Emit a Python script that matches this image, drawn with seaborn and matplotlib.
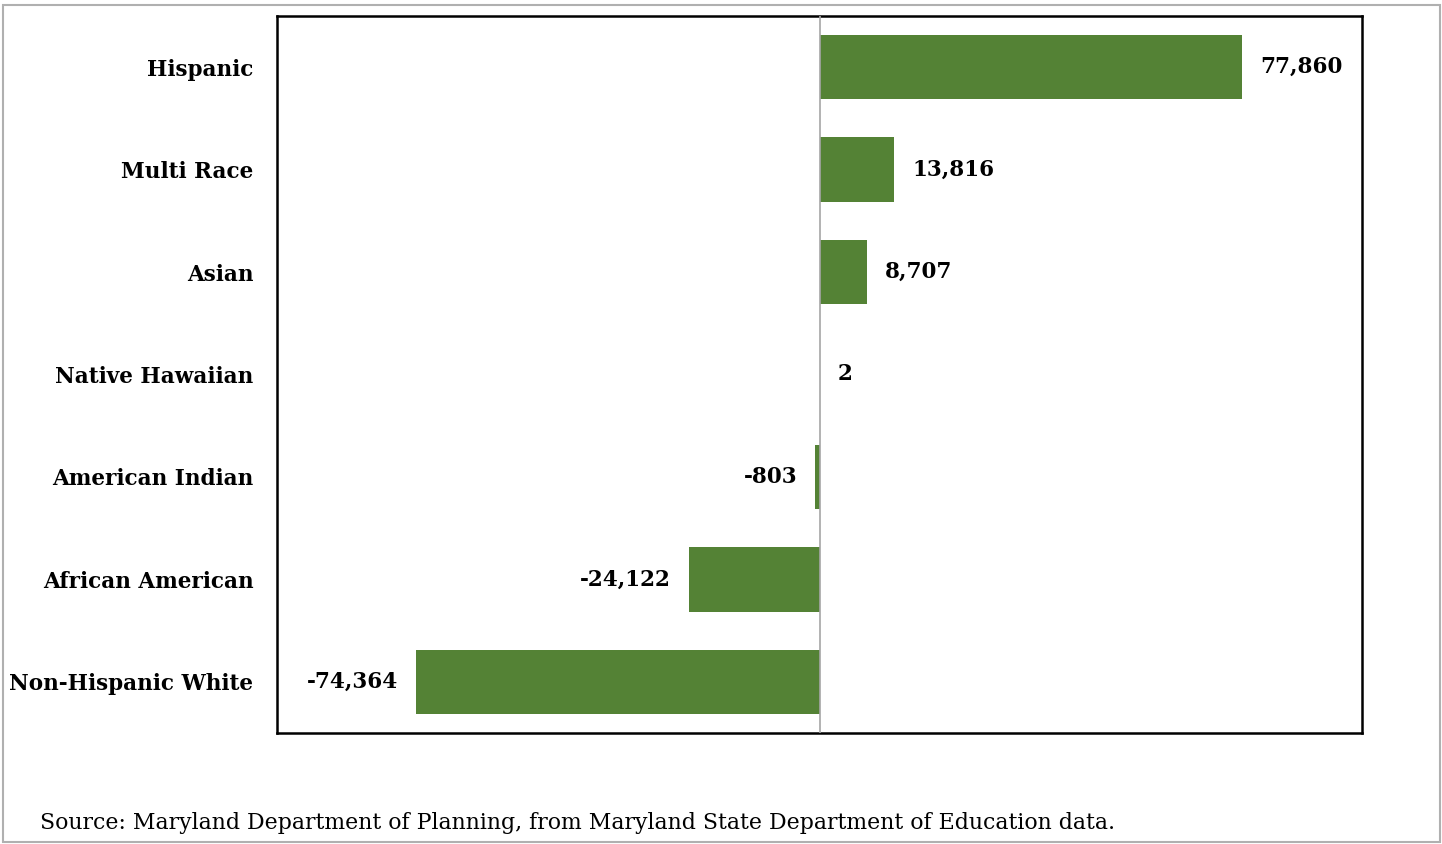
import pandas as pd
import seaborn as sns
import matplotlib.pyplot as plt
from matplotlib.patches import Rectangle

# Veriler
groups = ['Hispanic', 'Multi Race', 'Asian', 'Native Hawaiian',
          'American Indian', 'African American', 'Non-Hispanic White']
change = [77860, 13816, 8707, 2, -803, -24122, -74364]

df = pd.DataFrame({'group': groups, 'change': change})

sns.set_style('white')
plt.rcParams['font.family'] = ['DejaVu Serif']
plt.rcParams['text.color'] = 'black'

fig = plt.figure(figsize=(14.42, 8.44), dpi=100)
ax = fig.add_axes([277 / 1442, 1 - 733 / 844, (1362 - 277) / 1442, (733 - 16) / 844])

sns.barplot(data=df, x='change', y='group', orient='h', color='#548235',
            width=0.63, saturation=1, linewidth=0, ax=ax)

ax.set_xlim(-100000, 100000)
ax.set_ylim(6.5, -0.5)
ax.axvline(0, color='#a6a6a6', lw=1.2, zorder=3)

# Değer etiketleri
for i, v in enumerate(change):
    if v >= 0:
        ax.text(v + 3300, i, f'{v:,}', ha='left', va='center',
                fontsize=15.5, fontweight='bold', color='black')
    else:
        ax.text(v - 3300, i, f'{v:,}', ha='right', va='center',
                fontsize=15.5, fontweight='bold', color='black')

ax.set_xlabel('')
ax.set_ylabel('')
ax.set_xticks([])
ax.tick_params(axis='y', length=0, pad=17)
for lbl in ax.get_yticklabels():
    lbl.set_fontsize(15.5)
    lbl.set_fontweight('bold')
    lbl.set_color('black')

for s in ax.spines.values():
    s.set_visible(True)
    s.set_color('black')
    s.set_linewidth(1.8)

# Dış çerçeve ve kaynak
fig.patches.append(Rectangle((3 / 1442, 2 / 844), 1437 / 1442, 837 / 844, transform=fig.transFigure,
                             fill=False, edgecolor='#b0b0b0', lw=1.5))
fig.text(40 / 1442, 1 - 823 / 844, 'Source: Maryland Department of Planning, from Maryland State Department of Education data.',
         fontsize=15.8, va='center', ha='left', color='black')

plt.savefig('out.png', dpi=100)
